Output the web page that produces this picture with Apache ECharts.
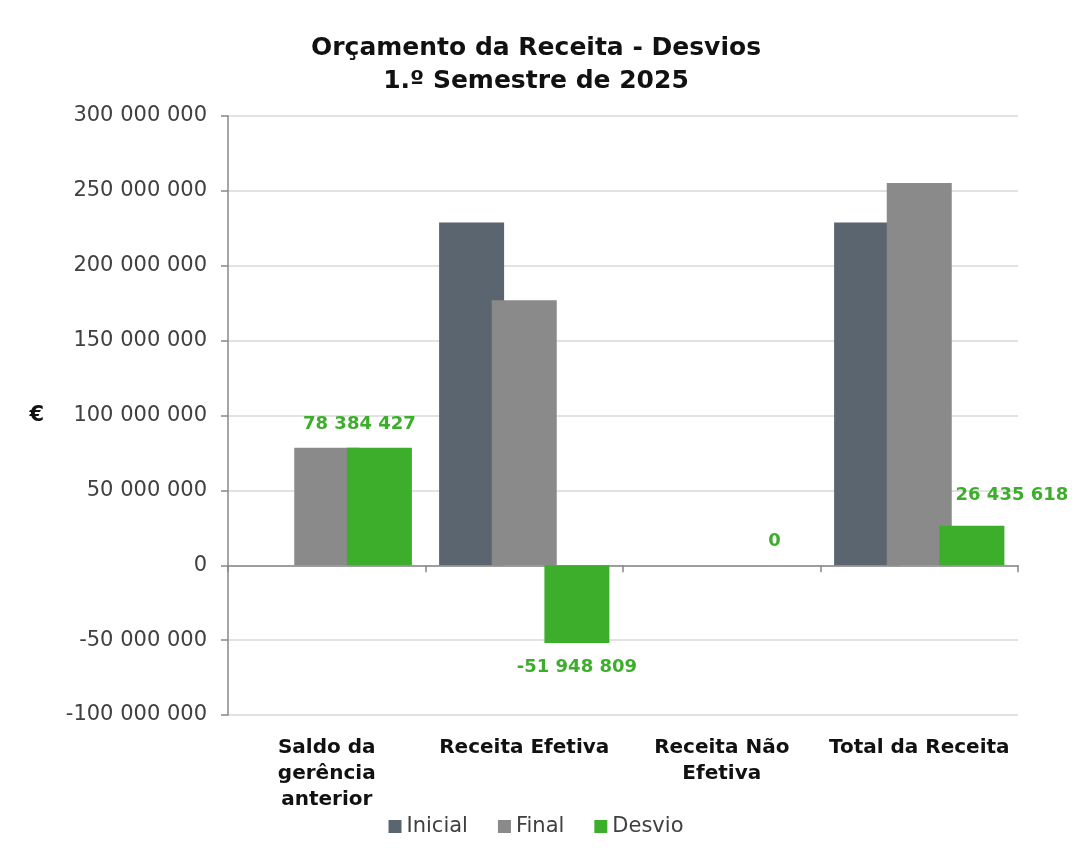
<!DOCTYPE html>
<html>
<head>
<meta charset="utf-8">
<script src="https://cdn.jsdelivr.net/npm/echarts@6/dist/echarts.min.js"></script>
<style>
  html, body { margin: 0; padding: 0; background: #fff; }
  #chart { width: 1072px; height: 855px; }
</style>
</head>
<body>
<div id="chart"></div>
<script>
// Orçamento da Receita - Desvios
var categorias = ["Saldo da\ngerência\nanterior", "Receita Efetiva", "Receita Não\nEfetiva", "Total da Receita"];
var inicial = [0, 228900000, 0, 228900000];
var final = [78384427, 176951191, 0, 255335618];
var desvio = [78384427, -51948809, 0, 26435618];
var yMin = -100000000, yMax = 300000000, yStep = 50000000;

var chart = echarts.init(document.getElementById("chart"));

function fmt(v) {
  var s = String(Math.abs(v)).replace(/\B(?=(\d{3})+(?!\d))/g, " ");
  return (v < 0 ? "-" : "") + s;
}

// deslocamento dos rótulos do desvio (como no original)
var labelShift = [[-20, 0], [0, 0], [0, 0], [40, -6]];

var green = "#3dae2b";

var option = {
  textStyle: { fontFamily: "DejaVu Sans" },
  title: {
    text: "Orçamento da Receita - Desvios\n1.º Semestre de 2025",
    left: "center",
    top: 27,
    textStyle: { fontSize: 25, fontWeight: "bold", color: "#111", lineHeight: 33, fontFamily: "DejaVu Sans" }
  },
  legend: {
    data: ["Inicial", "Final", "Desvio"],
    bottom: 13,
    left: "center",
    icon: "rect",
    itemWidth: 13,
    itemHeight: 13,
    itemGap: 30,
    textStyle: { fontSize: 21, color: "#404040" }
  },
  grid: { left: 228, right: 54, top: 116, bottom: 140, outerBoundsMode: "none" },
  xAxis: [
    {
      // eixo no zero: linha e marcas
      type: "category",
      data: categorias,
      axisLine: { onZero: true, lineStyle: { color: "#888", width: 1.5 } },
      axisTick: { show: true, length: 7, lineStyle: { color: "#888", width: 1.5 } },
      axisLabel: { show: false }
    },
    {
      // rótulos das categorias, em baixo
      type: "category",
      data: categorias,
      position: "bottom",
      axisLine: { show: false, onZero: false },
      axisTick: { show: false },
      axisLabel: {
        margin: 20,
        fontSize: 20,
        fontWeight: "bold",
        color: "#111",
        lineHeight: 26,
        verticalAlign: "top",
        interval: 0
      }
    }
  ],
  yAxis: {
    type: "value",
    min: yMin,
    max: yMax,
    interval: yStep,
    name: "€",
    nameLocation: "middle",
    nameRotate: 0,
    nameGap: 184,
    nameTextStyle: { fontSize: 21, fontWeight: "bold", color: "#111" },
    axisLine: { show: true, lineStyle: { color: "#888", width: 1.5 } },
    axisTick: { show: true, length: 7, lineStyle: { color: "#888", width: 1.5 } },
    axisLabel: { fontSize: 21, color: "#404040", margin: 21, formatter: fmt },
    splitLine: { lineStyle: { color: "#d9d9d9", width: 1.5 } }
  },
  series: [
    {
      name: "Inicial",
      type: "bar",
      data: inicial,
      barWidth: 65,
      barGap: "-19%",
      barCategoryGap: "14%",
      itemStyle: { color: "#5a6570" }
    },
    {
      name: "Final",
      type: "bar",
      data: final,
      barWidth: 65,
      barGap: "-19%",
      itemStyle: { color: "#8a8a8a" }
    },
    {
      name: "Desvio",
      type: "bar",
      barWidth: 65,
      barGap: "-19%",
      itemStyle: { color: green },
      data: desvio.map(function (v, i) {
        return {
          value: v,
          label: { position: v < 0 ? "bottom" : "top", offset: labelShift[i] }
        };
      }),
      label: {
        show: true,
        distance: 15,
        color: green,
        fontSize: 18,
        fontWeight: "bold",
        formatter: function (p) { return fmt(p.value); }
      }
    }
  ]
};

chart.setOption(option);
</script>
</body>
</html>
